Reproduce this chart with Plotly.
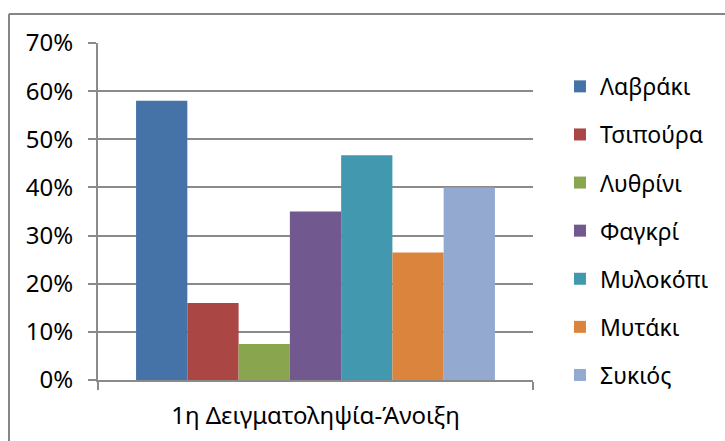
import plotly.graph_objects as go

# Sampling period (single category on the x axis)
categories = ["1η Δειγματοληψία-Άνοιξη"]

# Species and their share for this sampling
species = ["Λαβράκι", "Τσιπούρα", "Λυθρίνι", "Φαγκρί", "Μυλοκόπι", "Μυτάκι", "Συκιός"]
shares = [0.58, 0.16, 0.075, 0.35, 0.467, 0.265, 0.40]

colors = ["#4572A7", "#AA4643", "#89A54E", "#71588F", "#4198AF", "#DB843D", "#93A9CF"]

FONT = "Noto Sans"
FS = 23
GRID = "#8a8a8a"

fig = go.Figure()
for name, val, col in zip(species, shares, colors):
    fig.add_trace(go.Bar(
        x=categories, y=[val], name=name, legendgroup=name,
        marker=dict(color=col, line=dict(width=0)),
    ))

fig.update_layout(
    width=725, height=441,
    margin=dict(l=98, r=192, t=43, b=61, autoexpand=False),
    paper_bgcolor="white", plot_bgcolor="white",
    barmode="group", bargap=0.175, bargroupgap=0,
    font=dict(family=FONT, size=FS, color="#000000"),
    showlegend=True,
    legend=dict(
        x=1.062, y=0.935, xanchor="left", yanchor="top",
        font=dict(family=FONT, size=FS, color="#000000"),
        tracegroupgap=15.2, itemclick=False, itemdoubleclick=False,
        bgcolor="rgba(0,0,0,0)",
    ),
    xaxis=dict(
        type="category", range=[-0.5, 0.5], automargin=False,
        showline=True, linecolor=GRID, linewidth=2,
        ticks="outside", tickson="boundaries", ticklen=8, tickwidth=2, tickcolor=GRID,
        showgrid=False, tickfont=dict(family=FONT, size=24, color="#000000"),
        ticklabelstandoff=13,
    ),
    yaxis=dict(
        range=[0, 0.7], dtick=0.1, tickformat=".0%", automargin=False,
        showline=True, linecolor=GRID, linewidth=2,
        ticks="outside", ticklen=8, tickwidth=2, tickcolor=GRID,
        showgrid=True, gridcolor=GRID, gridwidth=2,
        zeroline=False,
        tickfont=dict(family=FONT, size=24, color="#000000"),
        ticklabelstandoff=10,
    ),
    shapes=[
        # chart-area frame (top and left edges)
        dict(type="line", xref="paper", yref="paper",
             x0=(9 - 98) / 435, x1=(730 - 98) / 435,
             y0=(441 - 14 - 61) / 337, y1=(441 - 14 - 61) / 337,
             line=dict(color="#868686", width=2)),
        dict(type="line", xref="paper", yref="paper",
             x0=(9 - 98) / 435, x1=(9 - 98) / 435,
             y0=(441 - 14 - 61) / 337, y1=-0.3,
             line=dict(color="#868686", width=2)),
    ],
)

fig.write_html("out.html")
